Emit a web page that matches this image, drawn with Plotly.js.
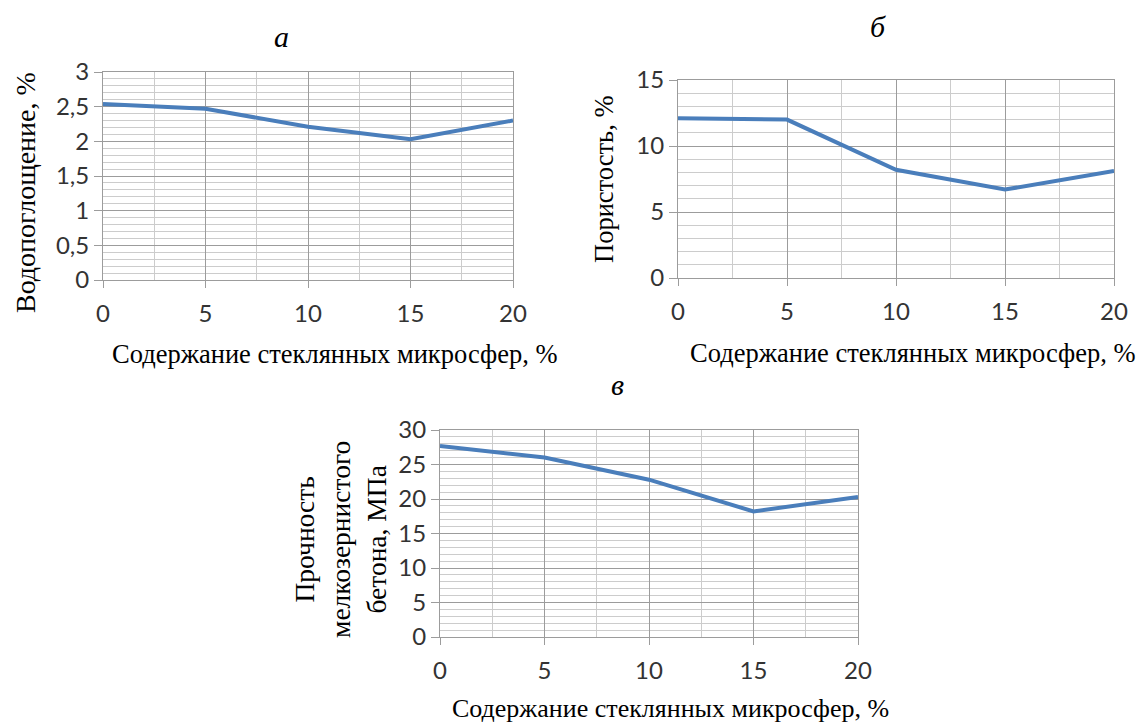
<!DOCTYPE html>
<html>
<head>
<meta charset="utf-8">
<script src="https://cdn.plot.ly/plotly-3.0.1.min.js"></script>
<style>
  html, body { margin: 0; padding: 0; background: #fff; }
  #chart { width: 1140px; height: 725px; }
</style>
</head>
<body>
<div id="chart"></div>
<script>
// Microsphere content, % (shared x values)
const microspherePct = [0, 5, 10, 15, 20];
// а: water absorption, %
const waterAbsorption = [2.54, 2.47, 2.21, 2.03, 2.30];
// б: porosity, %
const porosity = [12.1, 12.0, 8.2, 6.7, 8.1];
// в: fine-grained concrete strength, MPa
const strength = [27.7, 26.0, 22.8, 18.2, 20.3];

const panelLetters = ['а', 'б', 'в'];
const xTitle = 'Содержание стеклянных микросфер, %';
const yTitles = ['Водопоглощение, %', 'Пористость, %', 'Прочность<br>мелкозернистого<br>бетона, МПа'];

const W = 1140, H = 725;
const px = v => v / W;
const py = v => 1 - v / H;

const lineColor = '#4a7ebb';
const majorGrid = '#9c9c9c';
const minorGrid = '#cccccc';
const tickFont = { family: 'Lato, "Liberation Sans", sans-serif', size: 24, color: '#333' };
const serif = '"Liberation Serif", "Times New Roman", serif';

function xAxis(domain, anchor) {
  return {
    domain: domain, anchor: anchor, range: [0, 20],
    tickvals: [0, 5, 10, 15, 20], ticks: 'outside', ticklen: 7, tickcolor: majorGrid,
    ticklabelstandoff: 5,
    showgrid: true, gridcolor: majorGrid, gridwidth: 1,
    minor: { dtick: 2.5, showgrid: true, gridcolor: minorGrid, ticks: '' },
    showline: true, linecolor: majorGrid, mirror: true, zeroline: false,
    tickfont: tickFont, fixedrange: true
  };
}
function yAxis(domain, anchor, max, dtick, minorStep) {
  return {
    domain: domain, anchor: anchor, range: [0, max],
    tick0: 0, dtick: dtick, ticks: 'outside', ticklen: 8, tickcolor: majorGrid,
    showgrid: true, gridcolor: majorGrid, gridwidth: 1,
    minor: { dtick: minorStep, showgrid: true, gridcolor: minorGrid, ticks: '' },
    showline: true, linecolor: majorGrid, mirror: true, zeroline: false,
    tickfont: tickFont, fixedrange: true
  };
}

const traces = [
  { x: microspherePct, y: waterAbsorption, xaxis: 'x', yaxis: 'y' },
  { x: microspherePct, y: porosity, xaxis: 'x2', yaxis: 'y2' },
  { x: microspherePct, y: strength, xaxis: 'x3', yaxis: 'y3' }
].map(t => Object.assign(t, {
  type: 'scatter', mode: 'lines', line: { color: lineColor, width: 4 }, hoverinfo: 'x+y'
}));

const letterFont = { family: serif, size: 30, color: '#000' };

const annotations = [
  // panel letters
  { text: '<i>' + panelLetters[0] + '</i>', x: px(281), y: py(37) },
  { text: '<i>' + panelLetters[1] + '</i>', x: px(878), y: py(27) },
  { text: '<i>' + panelLetters[2] + '</i>', x: px(617), y: py(384) }
].map(a => Object.assign(a, { xref: 'paper', yref: 'paper', showarrow: false, font: letterFont,
  xanchor: 'center', yanchor: 'middle' }));

// x-axis titles
[[110, 354, 26.5], [688, 353, 26.5], [450, 708, 26]].forEach(([x, y, s]) => annotations.push({
  text: xTitle, x: px(x), y: py(y), xref: 'paper', yref: 'paper', showarrow: false,
  xanchor: 'left', yanchor: 'middle', font: { family: serif, size: s, color: '#000' }
}));
// y-axis titles
[[25, 193, 28], [604, 180, 26.5], [340, 540, 27.5]].forEach(([x, y, s], i) => annotations.push({
  text: yTitles[i], x: px(x), y: py(y), xref: 'paper', yref: 'paper', showarrow: false,
  xanchor: 'center', yanchor: 'middle', textangle: -90, align: 'center',
  font: { family: serif, size: s, color: '#000' }
}));

const layout = {
  width: W, height: H,
  margin: { l: 0, r: 0, t: 0, b: 0 },
  paper_bgcolor: '#fff', plot_bgcolor: '#fff',
  showlegend: false,
  separators: ', ',
  xaxis: xAxis([px(103), px(513)], 'y'),
  yaxis: yAxis([py(280), py(72)], 'x', 3, 0.5, 0.1),
  xaxis2: xAxis([px(678), px(1114)], 'y2'),
  yaxis2: yAxis([py(278), py(80)], 'x2', 15, 5, 1),
  xaxis3: xAxis([px(440), px(858)], 'y3'),
  yaxis3: yAxis([py(637), py(430)], 'x3', 30, 5, 1),
  annotations: annotations
};

Plotly.newPlot('chart', traces, layout, { displayModeBar: false, staticPlot: true });
</script>
</body>
</html>
